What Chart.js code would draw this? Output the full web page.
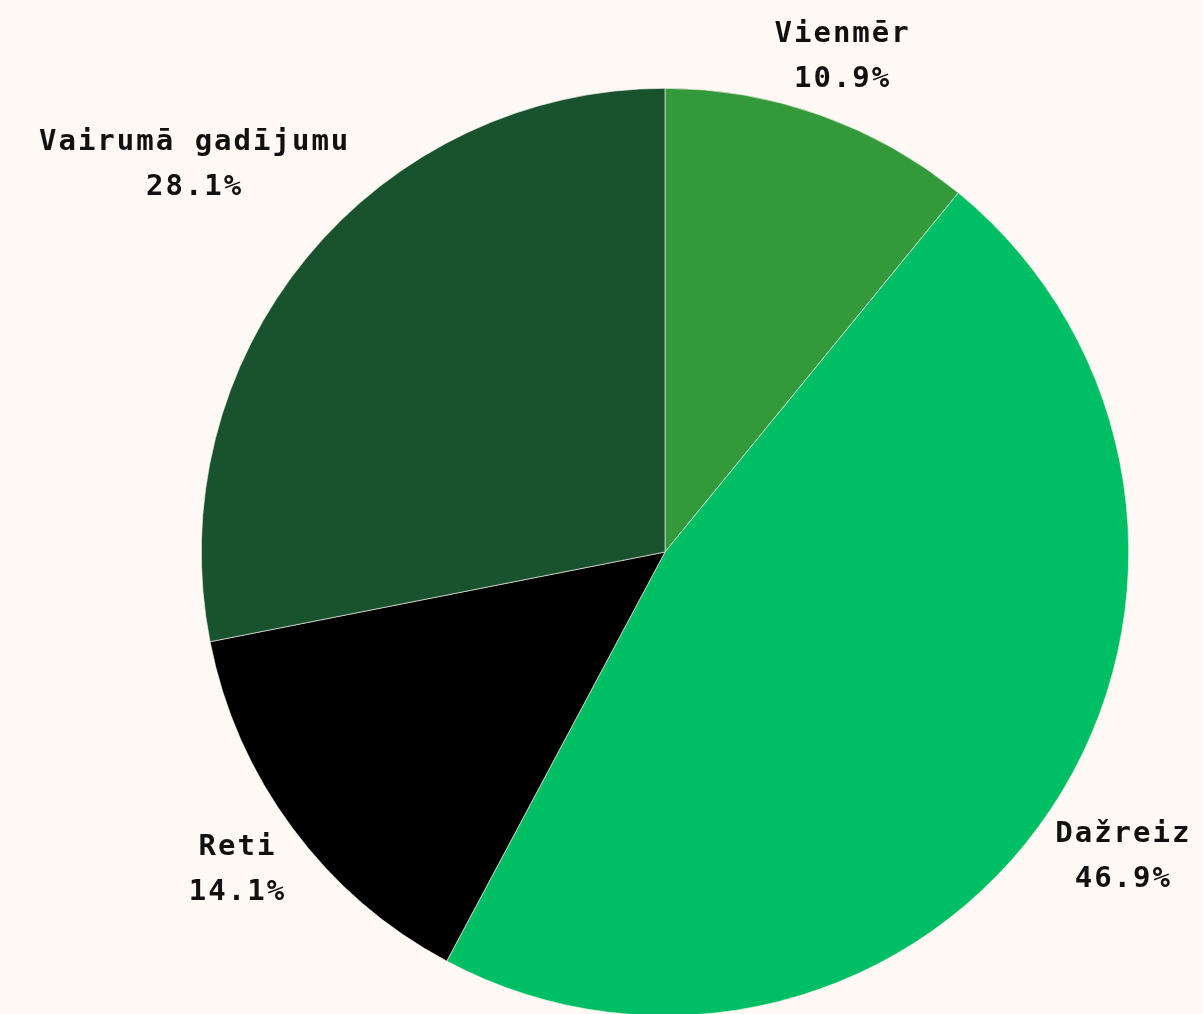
<!DOCTYPE html>
<html>
<head>
<meta charset="utf-8">
<script src="https://cdn.jsdelivr.net/npm/chart.js@4"></script>
<style>
  html, body { margin: 0; padding: 0; background: #fef9f4; overflow: hidden; }
  #wrap { position: absolute; left: 0; top: 0; width: 1203px; height: 1020px; }
</style>
</head>
<body>
<div id="wrap"><canvas id="c"></canvas></div>
<script>
const categories = ["Vienmēr", "Dažreiz", "Reti", "Vairumā gadījumu"];
const values = [10.9, 46.9, 14.1, 28.1];
const colors = ["#33993a", "#00be64", "#000000", "#18522e"];
const BG = "#fef9f4";

const labelPlugin = {
  id: 'outLabels',
  afterDatasetsDraw(chart) {
    const ctx = chart.ctx;
    const meta = chart.getDatasetMeta(0);
    const total = values.reduce((a, b) => a + b, 0);
    ctx.save();
    ctx.font = 'bold 29px "DejaVu Sans Mono"';
    ctx.letterSpacing = '2px';
    ctx.fillStyle = '#111111';
    ctx.textAlign = 'center';
    ctx.textBaseline = 'middle';
    const lineGap = 45;
    const gap = 12;
    meta.data.forEach((arc, i) => {
      const p = arc.getProps(['x', 'y', 'startAngle', 'endAngle', 'outerRadius'], true);
      const mid = (p.startAngle + p.endAngle) / 2;
      const ux = Math.cos(mid), uy = Math.sin(mid);
      const l1 = categories[i];
      const l2 = (values[i] / total * 100).toFixed(1) + '%';
      const w = Math.max(ctx.measureText(l1).width, ctx.measureText(l2).width) - 2;
      const hw = w / 2, hh = lineGap / 2 + 10;
      const need = p.outerRadius + gap;
      let lo = 0, hi = p.outerRadius + 600;
      for (let k = 0; k < 50; k++) {
        const t = (lo + hi) / 2;
        const dx = Math.max(0, Math.abs(t * ux) - hw);
        const dy = Math.max(0, Math.abs(t * uy) - hh);
        if (Math.hypot(dx, dy) >= need) hi = t; else lo = t;
      }
      const cx = p.x + hi * ux, cy = p.y + hi * uy;
      ctx.fillText(l1, cx + 1, cy - lineGap / 2);
      ctx.fillText(l2, cx + 1, cy + lineGap / 2);
    });
    ctx.restore();
  }
};

new Chart(document.getElementById('c'), {
  type: 'pie',
  data: {
    labels: categories,
    datasets: [{
      data: values,
      backgroundColor: colors,
      borderColor: BG,
      borderWidth: 0.6
    }]
  },
  options: {
    responsive: true,
    maintainAspectRatio: false,
    animation: false,
    layout: { padding: { top: 88, bottom: 4, left: 137, right: 10 } },
    plugins: { legend: { display: false }, tooltip: { enabled: false } }
  },
  plugins: [labelPlugin]
});
</script>
</body>
</html>
